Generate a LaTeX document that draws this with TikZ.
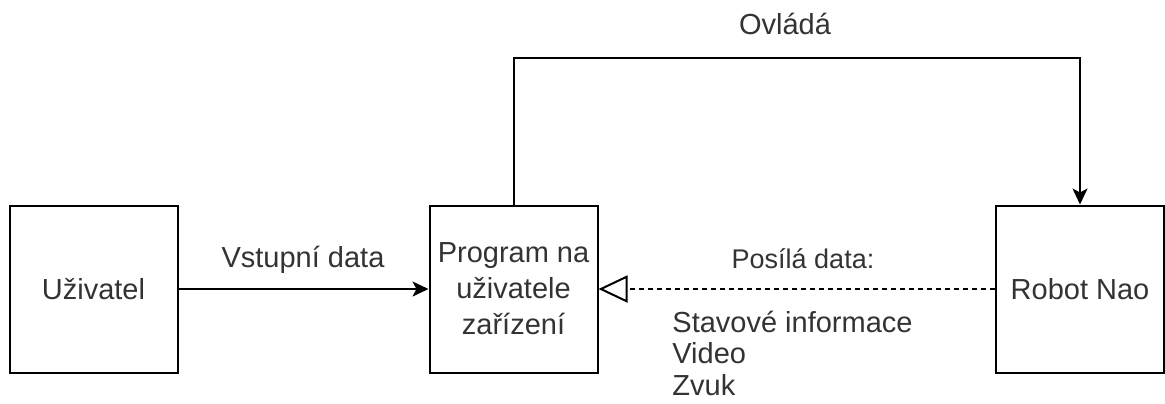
\documentclass[tikz,border=0pt]{standalone}
\usepackage{fontspec}
\setmainfont{Liberation Sans}
\usepackage{xcolor}
\usetikzlibrary{arrows.meta}
\definecolor{textgray}{HTML}{333333}

\tikzset{
  blok/.style={draw, line width=1pt, minimum width=84pt, minimum height=83.5pt, inner sep=0pt,
    align=center, text=textgray, font=\fontsize{14.5}{18}\selectfont},
  popis/.style={inner sep=0pt, text=textgray, font=\fontsize{14.5}{15.75}\selectfont},
  spoj/.style={line width=1pt},
}

\begin{document}
\begin{tikzpicture}[x=0.5pt, y=-0.5pt, >={Stealth[length=8pt, width=7.5pt, inset=2pt]}]
    \useasboundingbox (0,0) rectangle (1165,403);

    % Boxes
    \node[blok] (uzivatel) at (93.5, 289) {Uživatel};
    \node[blok] (program) at (513.5, 289) {Program na\\uživatele\\zařízení};
    \node[blok] (robot) at (1080, 289) {Robot Nao};

    % Connectors
    \draw[spoj, ->] (uzivatel) -- (program);
    \draw[spoj, -{Triangle[open, length=14.5pt, width=13.5pt]}, dash pattern=on 2.5pt off 2pt] (robot) -- (program);
    \draw[spoj, ->] (program.north) -- ++(0,-147) -| (robot.north);

    % Labels
    \node[popis, anchor=base] (ovlada) at (785, 34) {Ovládá};
    \node[popis, anchor=base] (vstup) at (303, 267) {Vstupní data};
    \node[popis, anchor=base, font=\fontsize{13.5}{15}\selectfont] (posila) at (803, 268) {Posílá data:};
    \node[popis, anchor=base west] (stav) at (672, 332) {Stavové informace};
    \node[popis, anchor=base west] (video) at (672, 363.5) {Video};
    \node[popis, anchor=base west] (zvuk) at (672, 395) {Zvuk};
\end{tikzpicture}
\end{document}
